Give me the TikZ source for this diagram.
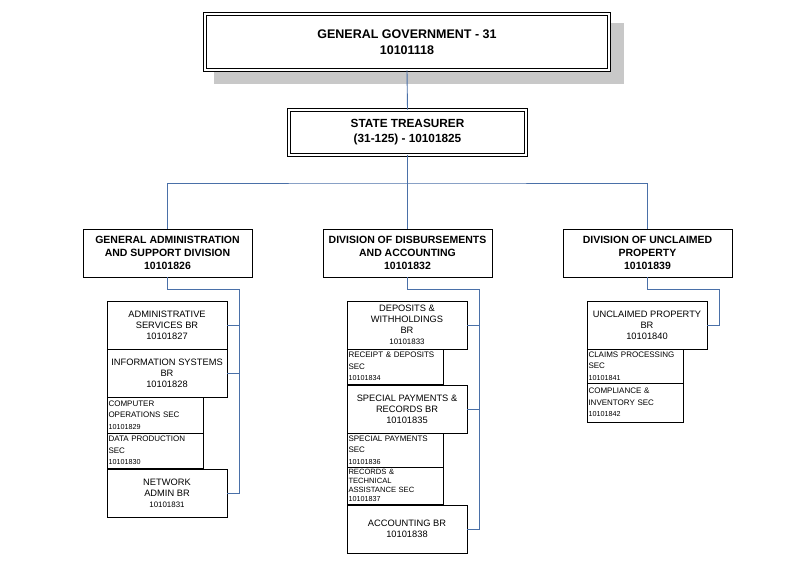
\documentclass[tikz,border=0pt]{standalone}
\usepackage{fontspec}
\setmainfont{Liberation Sans}
\definecolor{CLink}{HTML}{4A70A8}
\definecolor{CShadow}{HTML}{C8C8C8}
\newcommand{\secnum}{\fontsize{7.2}{11}\selectfont}
\newcommand{\smallnum}{\fontsize{7.9}{11}\selectfont}

\begin{document}
\begin{tikzpicture}[
    x=1pt, y=-1pt,
    % Reusable styles for boxes and connectors
    head box/.style={draw=black, fill=white, double, double distance=1.6pt, line width=0.9pt,
        align=center, inner sep=0pt, font=\fontsize{12.5}{16}\selectfont\bfseries},
    division box/.style={draw=black, fill=white, line width=0.9pt, minimum width=169pt,
        minimum height=48pt, inner sep=0pt, align=center, font=\fontsize{10.5}{12.7}\selectfont\bfseries},
    unit box/.style={draw=black, fill=white, line width=0.9pt, minimum width=120pt,
        minimum height=48pt, inner sep=0pt, align=center, font=\fontsize{9.3}{11}\selectfont},
    section box/.style={draw=black, fill=white, line width=0.9pt, text width=93pt,
        inner xsep=1.5pt, inner ysep=0pt, align=left, font=\fontsize{8}{11.3}\selectfont},
    link/.style={draw=CLink, line width=0.9pt}
]
    \path[use as bounding box, fill=white] (0,0) rectangle (790,575);

    % -------------------------
    % Top of the hierarchy
    % -------------------------
    \fill[CShadow] (214,23) rectangle (624,84); % drop shadow behind the top box
    \node[head box, minimum width=404pt, minimum height=56pt] (gg) at (407,42)
        {GENERAL GOVERNMENT - 31\\10101118};
    \node[head box, minimum width=237pt, minimum height=45pt,
        font=\fontsize{11.8}{15}\selectfont\bfseries] (st) at (407.5,132.5)
        {STATE TREASURER\\(31-125) - 10101825};

    % Divisions
    \node[division box] (gad) at (167.5,253) {GENERAL ADMINISTRATION\\AND SUPPORT DIVISION\\10101826};
    \node[division box] (dda) at (407.5,253) {DIVISION OF DISBURSEMENTS\\AND ACCOUNTING\\10101832};
    \node[division box] (dup) at (647.5,253) {DIVISION OF UNCLAIMED\\PROPERTY\\10101839};

    \coordinate (bus) at (407.5,183);
    \draw[link] (gg.south) -- (st.north);
    \draw[link] (st.south) -- (bus);
    \draw[link] (gad.north) |- (bus) -| (dup.north);
    \draw[link] (bus) -- (dda.north);

    % -------------------------
    % Left: general administration
    % -------------------------
    \node[unit box] (adm) at (167,325) {ADMINISTRATIVE\\SERVICES BR\\10101827};
    \node[unit box] (ifs) at (167,373) {INFORMATION SYSTEMS\\BR\\10101828};
    \node[section box, minimum height=36pt] (cos) at (155,415) {COMPUTER\\OPERATIONS SEC\\{\secnum 10101829}};
    \node[section box, minimum height=35pt] (dps) at (155,450.5) {DATA PRODUCTION\\SEC\\{\secnum 10101830}};
    \node[unit box] (nab) at (167,493) {NETWORK\\ADMIN BR\\{\smallnum 10101831}};

    \coordinate (gadR) at (239,289);
    \draw[link] (gad.south) |- (gadR) |- (nab.east);
    \foreach \b in {adm, ifs}
        \draw[link] (\b.east) -- (\b.east -| gadR);

    % -------------------------
    % Center: disbursements and accounting
    % -------------------------
    \node[unit box] (dwh) at (407,325) {DEPOSITS \&\\WITHHOLDINGS\\BR\\{\smallnum 10101833}};
    \node[section box, minimum height=35pt] (rds) at (395,366.5) {RECEIPT \& DEPOSITS\\SEC\\{\secnum 10101834}};
    \node[unit box] (spr) at (407,409) {SPECIAL PAYMENTS \&\\RECORDS BR\\10101835};
    \node[section box, minimum height=34pt] (sps) at (395,450) {SPECIAL PAYMENTS\\SEC\\{\secnum 10101836}};
    \node[section box, minimum height=37pt, font=\fontsize{7.6}{9.1}\selectfont] (rta) at (395,485.5)
        {RECORDS \&\\TECHNICAL\\ASSISTANCE SEC\\{\fontsize{7.2}{9.1}\selectfont 10101837}};
    \node[unit box] (acb) at (407,529) {ACCOUNTING BR\\10101838};

    \coordinate (ddaR) at (479,289);
    \draw[link] (dda.south) |- (ddaR) |- (acb.east);
    \foreach \b in {dwh, spr}
        \draw[link] (\b.east) -- (\b.east -| ddaR);

    % -------------------------
    % Right: unclaimed property
    % -------------------------
    \node[unit box] (upb) at (647,325) {UNCLAIMED PROPERTY\\BR\\10101840};
    \node[section box, minimum height=34pt] (cps) at (635,366) {CLAIMS PROCESSING\\SEC\\{\secnum 10101841}};
    \node[section box, minimum height=39pt] (cis) at (635,402.5) {COMPLIANCE \&\\INVENTORY SEC\\{\secnum 10101842}};

    \coordinate (dupR) at (719,289);
    \draw[link] (dup.south) |- (dupR) |- (upb.east);

\end{tikzpicture}
\end{document}
